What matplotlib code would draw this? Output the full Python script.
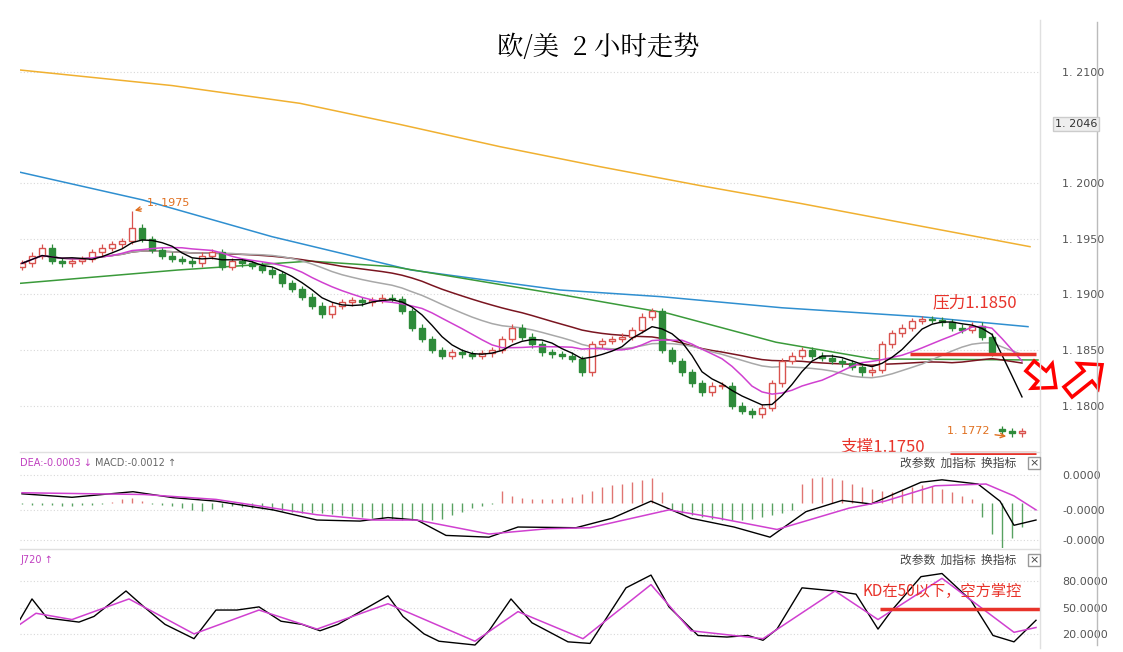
import matplotlib
matplotlib.use('Agg')
import matplotlib.pyplot as plt
from matplotlib.patches import Rectangle, FancyArrow
import pandas as pd

plt.rcParams['font.family'] = ['Noto Sans CJK SC', 'DejaVu Sans']

# ---- price data (2h candles, closes) ----
closes = [1.1928, 1.1935, 1.1942, 1.1930, 1.1928, 1.1930, 1.1932, 1.1938, 1.1942, 1.1945, 1.1948,
          1.1960, 1.1950,
          1.1940, 1.1935, 1.1932, 1.1930, 1.1928, 1.1935, 1.1938,
          1.1925, 1.1930, 1.1928, 1.1926, 1.1922, 1.1918,
          1.1910, 1.1905, 1.1898, 1.1890, 1.1882, 1.1890,
          1.1893, 1.1895, 1.1893, 1.1895, 1.1897, 1.1896, 1.1885,
          1.1870, 1.1860, 1.1850,
          1.1845, 1.1848, 1.1846, 1.1845, 1.1847, 1.1850, 1.1860,
          1.1870, 1.1862,
          1.1855, 1.1848, 1.1846, 1.1845, 1.1842, 1.1830,
          1.1855, 1.1858, 1.1860, 1.1862, 1.1868,
          1.1880, 1.1885, 1.1850,
          1.1840, 1.1830, 1.1820, 1.1812, 1.1818,
          1.1818, 1.1800, 1.1795, 1.1792,
          1.1798, 1.1820, 1.1840,
          1.1845, 1.1850, 1.1845, 1.1843, 1.1840, 1.1838, 1.1835,
          1.1830, 1.1832,
          1.1855, 1.1865, 1.1870, 1.1876,
          1.1878, 1.1877, 1.1875, 1.1870, 1.1868,
          1.1872, 1.1862, 1.1848, 1.1777, 1.1775, 1.1777]
first_open = 1.1925
gap_opens = {98: 1.1779}
peak_idx, peak_high = 11, 1.1975
low_idx, low_low = 99, 1.1772

ma60_x = [-0.2, 15.6, 28.8, 37.1, 53.8, 64.6, 75.4, 85.1, 101.6]
ma60_p = [1.1910, 1.1922, 1.1930, 1.1925, 1.1900, 1.1883, 1.1857, 1.1842, 1.1841]
ma120_x = [-0.2, 12.1, 25.0, 38.9, 53.8, 63.9, 76.0, 89.8, 100.6]
ma120_p = [1.2010, 1.1985, 1.1952, 1.1922, 1.1904, 1.1898, 1.1888, 1.1880, 1.1871]
ma250_x = [-0.2, 15.0, 27.8, 37.8, 47.8, 57.8, 67.8, 77.8, 87.8, 100.8]
ma250_p = [1.2102, 1.2088, 1.2072, 1.2053, 1.2033, 1.2015, 1.1998, 1.1982, 1.1965, 1.1943]

price_ticks = [1.2100, 1.2000, 1.1950, 1.1900, 1.1850, 1.1800]
price_labels = ['1. 2100', '1. 2000', '1. 1950', '1. 1900', '1. 1850', '1. 1800']

# ---- MACD ----
dif_x = [0, 5, 11.1, 15.1, 19.4, 25.1, 29.5, 33.8, 36.6, 39.5, 42.4, 46.7, 49.6, 55.4, 59, 62.9,
         66.9, 71.2, 74.8, 78.4, 82, 84.9, 89.9, 92, 95.6, 97.8, 99.2, 101.4]
dif_v = [-0.00054, -0.00064, -0.00048, -0.00065, -0.00075, -0.00100, -0.00129, -0.00132, -0.00122,
         -0.00129, -0.00173, -0.00178, -0.00149, -0.00151, -0.00124, -0.00075, -0.00124, -0.00149,
         -0.00178, -0.00105, -0.00073, -0.00083, -0.00021, -0.00014, -0.00026, -0.00075, -0.00144, -0.00129]
dea_x = [0, 12.2, 19.4, 29.5, 35.2, 39.5, 46.7, 52.5, 56.8, 64.7, 69.7, 75.5, 82.7, 86.3, 91.3, 96.4, 99.2, 101.4]
dea_v = [-0.00051, -0.00056, -0.00070, -0.00114, -0.00129, -0.00129, -0.00169, -0.00154, -0.00151,
         -0.00100, -0.00124, -0.00156, -0.00095, -0.00075, -0.00031, -0.00026, -0.00060, -0.00100]
hist = [-4, -5, -6, -7, -8, -8, -7, -6, -4,
        4, 10, 15, 6,
        -3, -6, -10, -15, -20,
        -22, -18, -12, -10,
        -12, -15, -18, -20, -22, -25, -28, -30,
        -30, -33, -35, -38, -40, -42, -44, -46, -48, -50, -52, -50, -45,
        -35, -25, -15, -8, -3,
        35, 20, 15, 12, 10,
        12, 15, 18, 25, 35, 45,
        50, 55, 60, 65, 70,
        30,
        -20, -30, -35, -40, -45, -48, -50, -48, -45, -40, -35, -30, -20,
        55, 70, 75, 72, 65, 55, 45,
        40, 35, 30, 40, 45,
        50, 48, 40, 30,
        20, 10,
        -40, -90, -135, -100, -70]
hist_base = -0.0008
macd_ticks = [0.0, -0.0010, -0.00186]
macd_labels = ['0.0000', '-0.0000', '-0.0000']

# ---- KD ----
k_x = [-0.2, 1.0, 2.5, 5.7, 7.2, 10.4, 12.2, 14.3, 17.2, 19.4, 21.5, 23.7, 25.9, 28, 29.8, 31.6,
       36.6, 38.1, 40.2, 41.7, 45.3, 46.7, 48.9, 51, 54.6, 56.8, 60.4, 62.9, 64.7, 67.6, 70.5,
       72.6, 74.1, 75.5, 78, 81.3, 83.4, 85.6, 87, 89.9, 92, 94.9, 97.1, 99.2, 101.4]
k_v = [36.4, 60, 38.2, 33.5, 40, 69.1, 50.9, 30.9, 14.5, 47.3, 47.3, 50.9, 34.5, 30.9, 23.6, 30.9,
       63.6, 40, 20, 11.6, 7.3, 23.6, 60, 32.7, 10.9, 9.1, 72.7, 87.3, 50.9, 18.2, 16.4,
       18.2, 12.7, 25.5, 72.7, 69.1, 65.5, 25.5, 47.3, 85.5, 89.1, 58.2, 18.2, 10.9, 35.6]
d_x = [-0.2, 1.4, 5, 10.7, 17.2, 23.7, 29.5, 36.6, 45.3, 49.6, 56.1, 62.9, 66.9, 74.1, 81.3, 85.6, 92, 99.2, 101.4]
d_v = [30.9, 43.6, 36.4, 60, 20, 47.3, 25.5, 54.5, 11.6, 45.5, 14.5, 76.4, 23.6, 14.5, 69.1, 36.4, 83.6, 21.8, 27.3]
kd_ticks = [80, 50, 20]
kd_labels = ['80.0000', '50.0000', '20.0000']

UP = '#d9534f'
DOWN = '#2e8b3a'
RED = '#e8332a'
GRID = '#d8d8d8'
XL = (-0.2, 101.8)

fig = plt.figure(figsize=(11.23, 6.52), dpi=100)
W, H = 1123, 652


def ax_px(top, bottom):
    return fig.add_axes([20 / W, 1 - bottom / H, 1020 / W, (bottom - top) / H])


def style(ax, ticks, labels, ylim):
    ax.set_xlim(*XL)
    ax.set_ylim(*ylim)
    for s in ax.spines.values():
        s.set_visible(False)
    ax.set_xticks([])
    ax.yaxis.tick_right()
    ax.set_yticks(ticks)
    ax.set_yticklabels(labels, fontsize=8, color='#555555', family='DejaVu Sans')
    ax.tick_params(axis='y', length=0, pad=16)
    for t in ticks:
        ax.axhline(t, color=GRID, lw=0.8, ls=(0, (1, 2)), zorder=0)


# ---------------- main price panel ----------------
ax = ax_px(20, 450)
style(ax, price_ticks, price_labels, (1.1760, 1.2147))

opens = [first_open] + closes[:-1]
for i, c in enumerate(closes):
    o = gap_opens.get(i, opens[i])
    hi = max(o, c) + 0.0003
    lo = min(o, c) - 0.0003
    if i == peak_idx:
        hi = peak_high
    if i == low_idx:
        lo = low_low
    col = UP if c >= o else DOWN
    ax.vlines(i, lo, hi, color=col, lw=0.9, zorder=3)
    body = max(abs(c - o), 0.00006)
    ax.add_patch(Rectangle((i - 0.3, min(o, c)), 0.6, body,
                           facecolor='white' if c >= o else DOWN, edgecolor=col, lw=1, zorder=4))

s = pd.Series(closes)
idx = list(range(len(closes)))
ax.plot(ma250_x, ma250_p, color='#f0b030', lw=1.1, zorder=2)
ax.plot(ma120_x, ma120_p, color='#2f8fd0', lw=1.1, zorder=2)
ax.plot(ma60_x, ma60_p, color='#3a9a3a', lw=1.1, zorder=2)
ax.plot(idx, s.rolling(30, min_periods=1).mean(), color='#7a1520', lw=1.1, zorder=2)
ax.plot(idx, s.rolling(20, min_periods=1).mean(), color='#a8a8a8', lw=1.1, zorder=2)
ax.plot(idx, s.rolling(10, min_periods=1).mean(), color='#d040d0', lw=1.1, zorder=5)
ax.plot(idx, s.rolling(5, min_periods=1).mean(), color='black', lw=1.0, zorder=5)

ax.annotate('1. 1975', xy=(peak_idx, peak_high), xytext=(peak_idx + 1.5, 1.1980),
            color='#e07020', fontsize=8, family='DejaVu Sans',
            arrowprops=dict(arrowstyle='->', color='#e07020', lw=1))
ax.annotate('1. 1772', xy=(low_idx - 0.3, low_low), xytext=(low_idx - 6.5, 1.1777),
            color='#e07020', fontsize=8, family='DejaVu Sans', va='center',
            arrowprops=dict(arrowstyle='->', color='#e07020', lw=1))
ax.hlines(1.1846, 88.8, 101.4, color=RED, lw=2.5, zorder=6)
ax.text(91, 1.1888, '压力1.1850', color=RED, fontsize=12)
ax.text(81.8, 1.1758, '支撑1.1750', color=RED, fontsize=12, clip_on=False)
ax.hlines(1.1757, 92.8, 101.4, color=RED, lw=2.5, zorder=6, clip_on=False)

fig.text(598 / W, 1 - 48 / H, '欧/美  2 小时走势', fontsize=19, ha='center', va='center',
         family=['Noto Serif CJK SC', 'Noto Sans CJK SC', 'DejaVu Sans'])
fig.text(1055 / W, 1 - 124 / H, '1. 2046', fontsize=8, color='#333333', va='center',
         family='DejaVu Sans', bbox=dict(facecolor='#eeeeee', edgecolor='#cccccc', pad=1.5))

# ---------------- MACD panel ----------------
ax2 = ax_px(455, 548)
style(ax2, macd_ticks, macd_labels, (-0.00209, 0.00057))
for i, h in enumerate(hist):
    ax2.vlines(i, hist_base, hist_base + h * 1e-5, color=UP if h > 0 else DOWN, lw=1, alpha=0.8)
ax2.plot(dif_x, dif_v, color='black', lw=1)
ax2.plot(dea_x, dea_v, color='#d040d0', lw=1.1)
fig.text(20 / W, 1 - 463 / H, 'DEA:-0.0003 ↓', fontsize=7, color='#c040c0', va='center', family='DejaVu Sans')
fig.text(95 / W, 1 - 463 / H, 'MACD:-0.0012 ↑', fontsize=7, color='#666666', va='center', family='DejaVu Sans')

# ---------------- KD panel ----------------
ax3 = ax_px(550, 647)
style(ax3, kd_ticks, kd_labels, (5, 116))
ax3.plot(k_x, k_v, color='black', lw=1)
ax3.plot(d_x, d_v, color='#d040d0', lw=1.1)
ax3.hlines(48, 85.8, 101.8, color=RED, lw=2.5)
ax3.text(84, 63, 'KD在50以下，空方掌控', color=RED, fontsize=11)
fig.text(20 / W, 1 - 560 / H, 'J720 ↑', fontsize=7, color='#c040c0', va='center', family='DejaVu Sans')

for y in (463, 560):
    fig.text(900 / W, 1 - y / H, '改参数  加指标  换指标', fontsize=8.5, color='#444444', va='center')
    fig.text(1034 / W, 1 - y / H, '×', fontsize=8, color='#444444', va='center', ha='center',
             family='DejaVu Sans', bbox=dict(facecolor='white', edgecolor='#999999', pad=0.8))

# overlay axes in pixel units for frame lines and the outlined arrows
ov = fig.add_axes([0, 0, 1, 1], facecolor='none')
ov.set_xlim(0, W)
ov.set_ylim(H, 0)
ov.axis('off')
for y in (452, 549):
    ov.plot([20, 1040], [y, y], color='#e0e0e0', lw=1)
ov.plot([1040, 1040], [20, 648], color='#e0e0e0', lw=1)
ov.plot([1097, 1097], [22, 645], color='#bbbbbb', lw=1)
ov.add_patch(FancyArrow(1030, 366, 12, 10, width=13, head_width=32, head_length=18,
                        facecolor='white', edgecolor='red', lw=2.5))
ov.add_patch(FancyArrow(1068, 392, 20, -16, width=13, head_width=32, head_length=18,
                        facecolor='white', edgecolor='red', lw=2.5))

fig.savefig('out.png', dpi=100)
